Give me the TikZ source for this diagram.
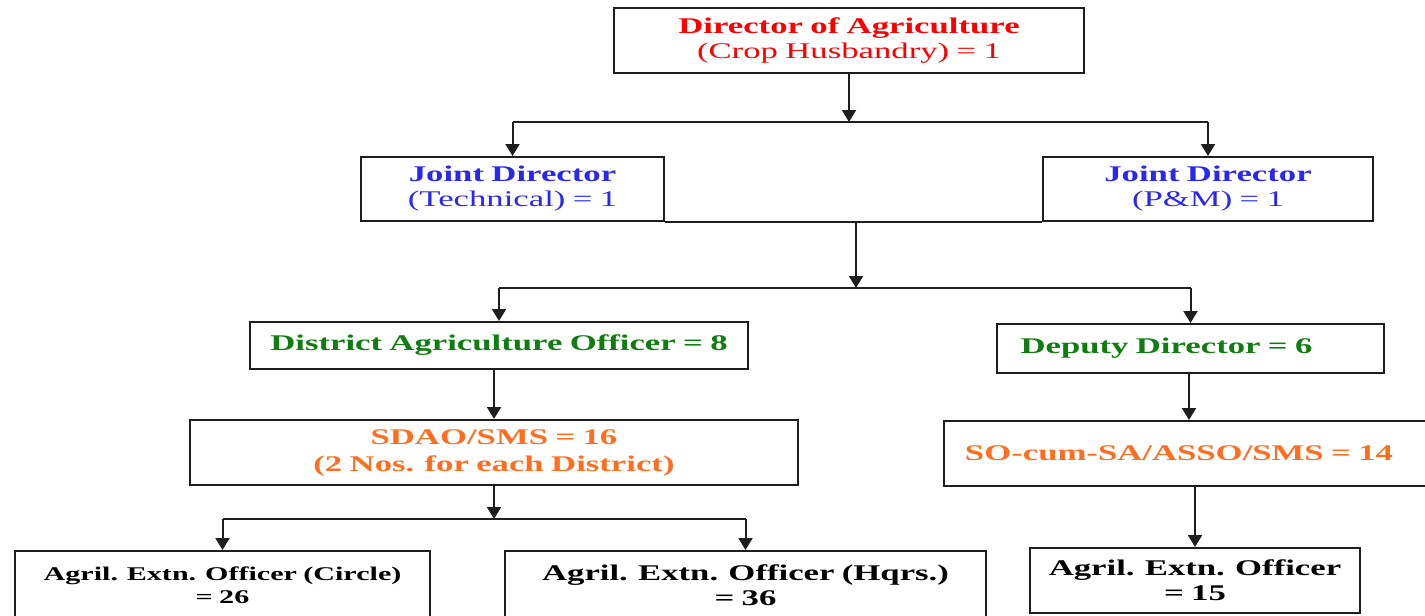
\documentclass[tikz,border=0pt]{standalone}
\usepackage{fontspec}
\setmainfont{Liberation Serif}[FakeStretch=1.55, WordSpace=0.85]
\usetikzlibrary{arrows.meta}
\definecolor{dirred}{RGB}{255,0,0}
\definecolor{jdblue}{RGB}{40,40,240}
\definecolor{offgreen}{RGB}{15,125,15}
\definecolor{sdorange}{RGB}{255,110,30}
\definecolor{edge}{RGB}{30,30,30}
\begin{document}
\begin{tikzpicture}[x=0.5pt,y=-0.5pt,
  box/.style={draw=edge, line width=1pt, rectangle, inner sep=0pt, align=center,
    font=\fontsize{11.2}{12.5}\selectfont},
  sz/.style 2 args={minimum width=#1*0.5pt, minimum height=#2*0.5pt},
  link/.style={draw=edge, line width=1pt},
  arr/.style={link, -{Triangle[width=7pt,length=6pt]}},
]
\useasboundingbox (0,0) rectangle (1425,616);
\clip (0,0) rectangle (1425,616);

% boxes
\node[box, sz={470}{65}, text=dirred] (dir) at (849,40.5)
  {\textbf{Director of Agriculture}\\(Crop Husbandry) = 1};
\node[box, sz={303}{64}, text=jdblue] (jt) at (512.5,189)
  {\textbf{Joint Director}\\(Technical) = 1};
\node[box, sz={330}{64}, text=jdblue] (jp) at (1208,189)
  {\textbf{Joint Director}\\(P\&M) = 1};
\node[box, sz={498}{47}, text=offgreen, font=\bfseries\fontsize{11.2}{12.5}\selectfont] (dao) at (499,345.5)
  {District Agriculture Officer = 8};
\node[box, sz={387}{49}, text=offgreen, font=\bfseries\fontsize{11.2}{12.5}\selectfont] (dd) at (1190.5,348.5)
  {Deputy Director = 6\hspace*{24pt}};
\node[box, sz={608}{65}, text=sdorange, font=\bfseries\fontsize{11.2}{13.5}\selectfont] (sdao) at (494,452.5)
  {SDAO/SMS = 16\\(2 Nos. for each District)};
\node[box, sz={490}{65}, text=sdorange, font=\bfseries\fontsize{11.2}{12.5}\selectfont] (so) at (1189,453.5)
  {SO-cum-SA/ASSO/SMS = 14\hspace*{10pt}};
\node[box, sz={415}{69}, font=\bfseries\fontsize{9.7}{11.5}\selectfont] (aec) at (222.5,585.5)
  {Agril. Extn. Officer (Circle)\\= 26};
\node[box, sz={481}{69}, font=\bfseries\fontsize{11.2}{12.5}\selectfont] (aeh) at (745.5,585.5)
  {Agril. Extn. Officer (Hqrs.)\\= 36};
\node[box, sz={330}{65}, font=\bfseries\fontsize{11.2}{12.5}\selectfont] (ae) at (1195,580.5)
  {Agril. Extn. Officer\\= 15};

% junction points
\coordinate (b1) at (849,122);
\coordinate (j2) at (856,221);
\coordinate (b2) at (856,288);
\coordinate (b3) at (494,519);

% Director -> Joint Directors
\draw[arr] (dir.south) -- (b1);
\draw[link] (jt.north |- b1) -- (jp.north |- b1);
\draw[arr] (jt.north |- b1) -- (jt.north);
\draw[arr] (jp.north |- b1) -- (jp.north);

% Joint Directors -> DAO / Deputy Director
\draw[link] (jt.south east) -- (jp.south west);
\draw[arr] (j2) -- (b2);
\draw[link] (dao.north |- b2) -- (dd.north |- b2);
\draw[arr] (dao.north |- b2) -- (dao.north);
\draw[arr] (dd.north |- b2) -- (dd.north);

% DAO branch
\draw[arr] (sdao.north |- dao.south) -- (sdao.north);
\draw[arr] (sdao.south) -- (b3);
\draw[link] (aec.north |- b3) -- (aeh.north |- b3);
\draw[arr] (aec.north |- b3) -- (aec.north);
\draw[arr] (aeh.north |- b3) -- (aeh.north);

% Deputy Director branch
\draw[arr] (so.north |- dd.south) -- (so.north);
\draw[arr] (ae.north |- so.south) -- (ae.north);
\end{tikzpicture}
\end{document}
